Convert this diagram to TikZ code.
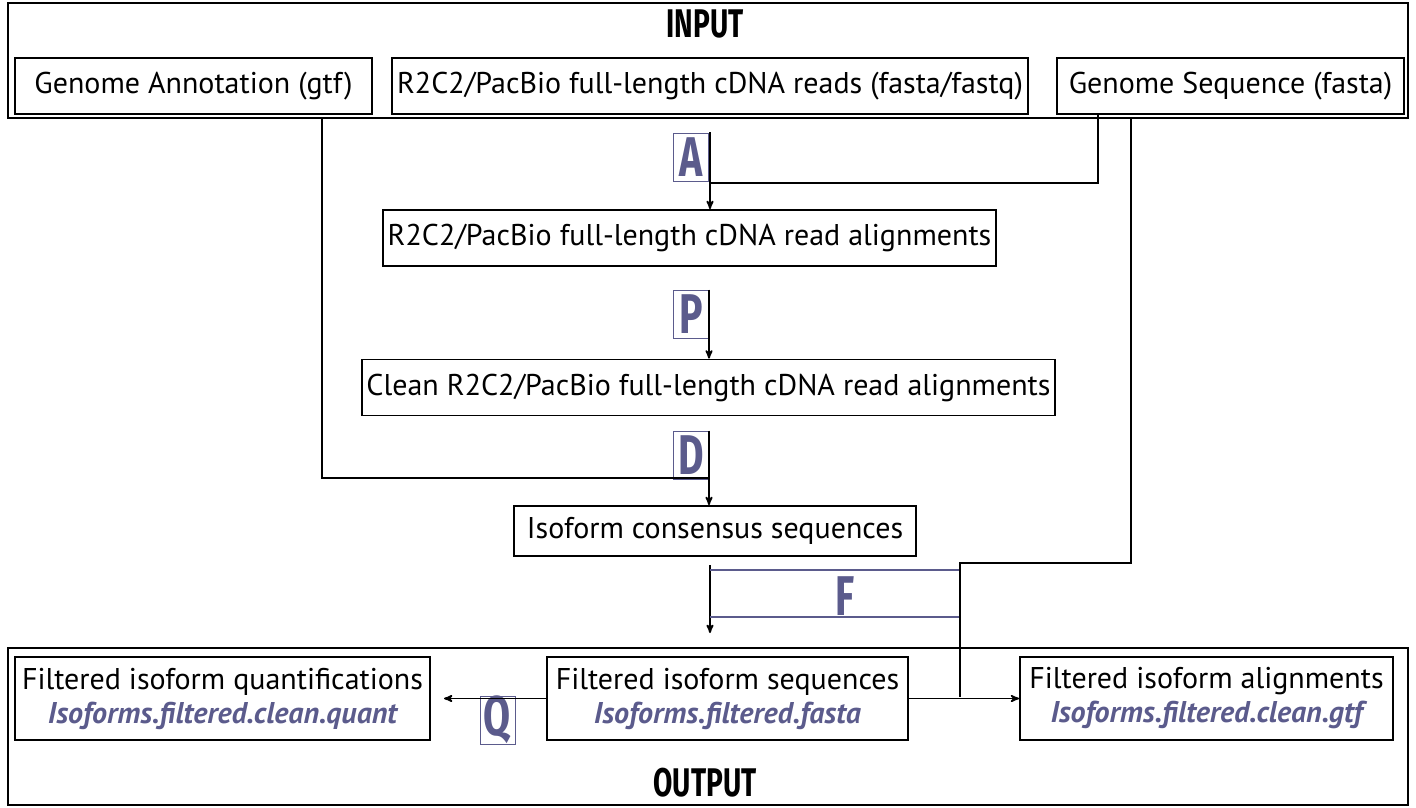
\documentclass[tikz,border=0pt]{standalone}
\usepackage{fontspec}
\setmainfont{PT Sans}
\newfontfamily\lettfont{Fira Sans}
\usepackage{xcolor}
\definecolor{lila}{HTML}{5B5B8C}
\usetikzlibrary{arrows}
\tikzset{
	kasten/.style={draw=black, line width=1.8pt, inner sep=0pt, minimum height=56pt, font=\fontsize{30}{34}\selectfont, align=center},
	buchst/.style={draw=lila, line width=1pt, inner sep=0pt, minimum width=35pt, minimum height=48pt, text=lila, font=\lettfont\bfseries\fontsize{56}{56}\selectfont},
	titel/.style={font=\lettfont\bfseries\fontsize{40}{40}\selectfont},
	linie/.style={line width=1.8pt},
	pfeil/.style={line width=1.8pt, ->, >=stealth'},
}
\newcommand{\dateiname}[1]{{\color{lila}\bfseries\itshape #1}}
\newcommand{\schmal}[1]{\scalebox{0.7}[1]{#1}}
\begin{document}
\begin{tikzpicture}[x=1pt, y=-1pt]
	\useasboundingbox (0,0) rectangle (1416,808);

	% Eingabe
	\draw[linie] (8,3) rectangle (1408,118);
	\node[titel](IN) at (705,24) {\schmal{INPUT}};
	\node[kasten, minimum width=357pt](gtf) at (193.5,86) {Genome Annotation (gtf)};
	\node[kasten, minimum width=636pt](reads) at (710,86) {R2C2/PacBio full-length cDNA reads (fasta/fastq)};
	\node[kasten, minimum width=347pt](fasta) at (1230.5,86) {Genome Sequence (fasta)};

	% Zwischenschritte
	\node[kasten, minimum width=613pt](align) at (689.5,238) {R2C2/PacBio full-length cDNA read alignments};
	\node[kasten, minimum width=693pt](clean) at (708.5,387.5) {Clean R2C2/PacBio full-length cDNA read alignments};
	\node[kasten, minimum width=402pt, minimum height=50pt](cons) at (715,531) {Isoform consensus sequences};

	% Buchstaben
	\node[buchst](A) at (691,157) {\schmal{A}};
	\node[buchst](P) at (691,314) {\schmal{P}};
	\node[buchst](D) at (691,455) {\schmal{D}};
	\node[buchst](Q) at (497.5,720) {\schmal{Q}};
	\node[text=lila, font=\lettfont\bfseries\fontsize{56}{56}\selectfont](F) at (845,596) {\schmal{F}};

	% Ausgabe
	\draw[linie] (8,648) rectangle (1408,805);
	\node[titel](OUT) at (705,783) {\schmal{OUTPUT}};
	\node[kasten, minimum width=415pt, minimum height=83pt](quant) at (222.5,698.5) {Filtered isoform quantifications\\\dateiname{Isoforms.filtered.clean.quant}};
	\node[kasten, minimum width=361pt, minimum height=83pt](fseq) at (727.5,698.5) {Filtered isoform sequences\\\dateiname{Isoforms.filtered.fasta}};
	\node[kasten, minimum width=373pt, minimum height=83pt](falign) at (1206.5,698.5) {Filtered isoform alignments\\\dateiname{Isoforms.filtered.clean.gtf}};

	\coordinate (a_start) at (710,132);
	\coordinate (gtf_start) at (322,118);
	\coordinate (fasta_start) at (1098,114);
	\coordinate (fasta2_start) at (1131,118);
	\coordinate (f_start) at (710,565);
	\coordinate (f_ecke) at (960,563);
	\coordinate (f_ende) at (960,697);

	% Pfeile
	\draw[pfeil] (a_start) -- (a_start |- align.north);
	\draw[linie] (fasta_start) |- (710,183);
	\draw[pfeil] (P.north east) -- (P.north east |- clean.north);
	\draw[pfeil] (D.north east) -- (D.north east |- cons.north);
	\draw[linie] (gtf_start) |- (710,478);
	\draw[pfeil] (f_start) -- (710,633);
	\draw[lila, line width=1.6pt] (710,570) -- (960,570);
	\draw[lila, line width=1.6pt] (710,617) -- (960,617);
	\draw[linie] (fasta2_start) |- (f_ecke) -- (f_ende);
	\draw[pfeil] (fseq.east) -- (falign.west);
	\draw[pfeil] (fseq.west) -- (quant.east -| 444,0);
\end{tikzpicture}
\end{document}
